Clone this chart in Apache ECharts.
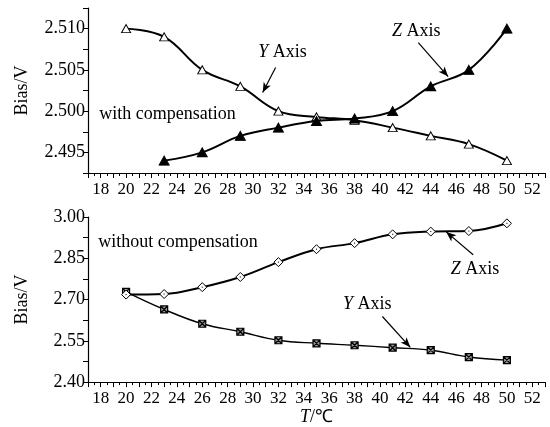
<!DOCTYPE html>
<html><head><meta charset="utf-8">
<script src="https://cdn.jsdelivr.net/npm/echarts@6/dist/echarts.min.js"></script>
<style>html,body{margin:0;padding:0;background:#fff}#c{width:550px;height:427px}</style>
</head><body><div id="c"></div>
<script>
// ---- data ----
const temps = [20, 23, 26, 29, 32, 35, 38, 41, 44, 47, 50];
const withYAxis = [2.510, 2.509, 2.505, 2.503, 2.500, 2.4993, 2.4989, 2.498, 2.497, 2.496, 2.494];
const withZTemps = [23, 26, 29, 32, 35, 38, 41, 44, 47, 50];
const withZAxis = [2.494, 2.495, 2.497, 2.498, 2.4988, 2.4991, 2.500, 2.503, 2.505, 2.510];
const withoutZAxis = [2.718, 2.720, 2.745, 2.782, 2.836, 2.883, 2.905, 2.937, 2.947, 2.949, 2.977];
const withoutYAxis = [2.728, 2.664, 2.612, 2.583, 2.552, 2.541, 2.534, 2.525, 2.516, 2.491, 2.480];
const xRange = [17, 53];
const xStep = 1;
const topRange = [2.4925, 2.5125];
const topStep = 0.0025;
const bottomRange = [2.40, 3.00];
const bottomStep = 0.075;
// annotation anchors (data units)
const topYText = [32.33, 2.5071];
const topYArrow = [[31.78, 2.50528], [30.76, 2.50225]];
const topZText = [42.86, 2.50964];
const topZArrow = [[43.02, 2.5083], [45.37, 2.50419]];
const topCaption = [17.88, 2.49959];
const botCaption = [17.8, 2.9096];
const botZText = [47.49, 2.8084];
const botZArrow = [[47.34, 2.8627], [45.22, 2.9458]];
const botYText = [39.0, 2.682];
const botYArrow = [[40.19, 2.6385], [42.39, 2.5265]];

const FONT = "'Liberation Serif','Times New Roman',serif";
const pairs = (xs, ys) => xs.map((x, i) => [x, ys[i]]);
const richI = {i: {fontStyle: 'italic', fontFamily: FONT, fontSize: 18, color: '#000'},
               n: {fontFamily: FONT, fontSize: 18, color: '#000'}};

function xAx(gi, withName) {
  return {
    type: 'value', gridIndex: gi, min: xRange[0], max: xRange[1], interval: xStep,
    axisLine: {show: true, onZero: false, lineStyle: {color: '#000', width: 1.2}},
    axisTick: {show: true, length: 5, lineStyle: {color: '#000', width: 1}},
    minorTick: {show: true, splitNumber: 2, length: 3, lineStyle: {color: '#000', width: 1}},
    splitLine: {show: false}, minorSplitLine: {show: false},
    axisLabel: {margin: 8, color: '#000', fontFamily: FONT, fontSize: 17,
      formatter: v => (Math.round(v) % 2 === 0 ? String(Math.round(v)) : '')},
    name: withName ? '{i|T}{n|/℃}' : '',
    nameLocation: 'middle', nameGap: 23,
    nameTextStyle: {fontFamily: FONT, fontSize: 18, color: '#000', rich: richI}
  };
}
function yAx(gi, range, step, dec) {
  return {
    type: 'value', gridIndex: gi, min: range[0], max: range[1], interval: step,
    axisLine: {show: true, onZero: false, lineStyle: {color: '#000', width: 1.2}},
    axisTick: {show: true, length: 5, lineStyle: {color: '#000', width: 1}},
    splitLine: {show: false},
    axisLabel: {margin: 3, color: '#000', fontFamily: FONT, fontSize: 18,
      formatter: v => (Math.round(v / step) % 2 === 0 ? v.toFixed(dec) : '')},
    name: 'Bias/V', nameLocation: 'middle', nameGap: 57,
    nameTextStyle: {fontFamily: FONT, fontSize: 18, color: '#000'}
  };
}
function arrowLine(a) {
  return {silent: true, symbol: ['none', 'arrow'], symbolSize: [6, 10], animation: false,
    lineStyle: {color: '#000', width: 1.2, type: 'solid'}, label: {show: false},
    data: [[{coord: a[0]}, {coord: a[1]}]]};
}
function textPoints(items) {
  return {silent: true, symbol: 'circle', symbolSize: 0, animation: false,
    itemStyle: {color: 'transparent'},
    label: {show: true, position: 'inside', color: '#000', fontFamily: FONT, fontSize: 18, rich: richI},
    data: items};
}
const boxX = 'path://M0,0L10,0L10,10L0,10Z M0,0L10,10 M10,0L0,10';
const diamondDot = 'path://M5,0L10,5L5,10L0,5Z M4.4,5L5.6,5';

const option = {
  animation: false,
  backgroundColor: '#fff',
  grid: [
    {left: 88, top: 8, width: 457, height: 165, containLabel: false},
    {left: 88, top: 217, width: 457, height: 166, containLabel: false}
  ],
  xAxis: [xAx(0, false), xAx(1, true)],
  yAxis: [yAx(0, topRange, topStep, 3), yAx(1, bottomRange, bottomStep, 2)],
  series: [
    {type: 'line', xAxisIndex: 0, yAxisIndex: 0, data: pairs(temps, withYAxis), smooth: 0.4,
      symbol: 'triangle', symbolSize: [9, 8], z: 2,
      lineStyle: {color: '#000', width: 2}, itemStyle: {color: '#fff', borderColor: '#000', borderWidth: 1},
      markLine: arrowLine(topYArrow),
      markPoint: textPoints([
        {coord: topYText, label: {formatter: '{i|Y}{n| Axis}'}},
        {coord: topCaption, label: {formatter: 'with compensation', align: 'left'}}
      ])},
    {type: 'line', xAxisIndex: 0, yAxisIndex: 0, data: pairs(withZTemps, withZAxis), smooth: 0.4,
      symbol: 'triangle', symbolSize: [10, 9], z: 3,
      lineStyle: {color: '#000', width: 2}, itemStyle: {color: '#000', borderColor: '#000', borderWidth: 1},
      markLine: arrowLine(topZArrow),
      markPoint: textPoints([{coord: topZText, label: {formatter: '{i|Z}{n| Axis}'}}])},
    {type: 'line', xAxisIndex: 1, yAxisIndex: 1, data: pairs(temps, withoutZAxis), smooth: 0.4,
      symbol: diamondDot, symbolSize: 9, z: 3,
      lineStyle: {color: '#000', width: 2}, itemStyle: {color: '#fff', borderColor: '#000', borderWidth: 1},
      markLine: arrowLine(botZArrow),
      markPoint: textPoints([
        {coord: botZText, label: {formatter: '{i|Z}{n| Axis}'}},
        {coord: botCaption, label: {formatter: 'without compensation', align: 'left'}}
      ])},
    {type: 'line', xAxisIndex: 1, yAxisIndex: 1, data: pairs(temps, withoutYAxis), smooth: 0.4,
      symbol: boxX, symbolSize: 7, z: 2,
      lineStyle: {color: '#000', width: 1.4}, itemStyle: {color: '#999', borderColor: '#000', borderWidth: 1.2},
      markLine: arrowLine(botYArrow),
      markPoint: textPoints([{coord: botYText, label: {formatter: '{i|Y}{n| Axis}'}}])}
  ]
};
const chart = echarts.init(document.getElementById('c'), null, {renderer: 'canvas'});
chart.setOption(option);
</script></body></html>
